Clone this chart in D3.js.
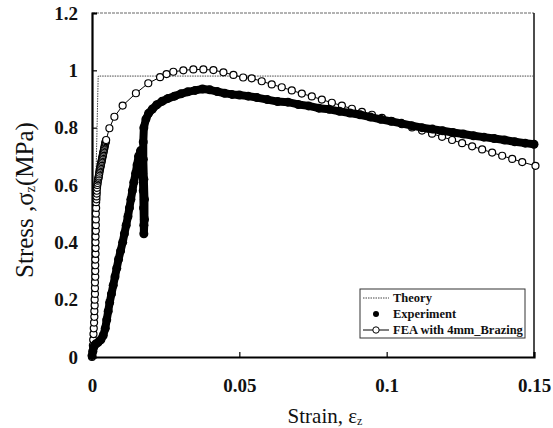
<!DOCTYPE html>
<html>
<head>
<meta charset="utf-8">
<script src="https://cdn.jsdelivr.net/npm/d3@7"></script>
<style>
  body { margin: 0; background: #fff; }
  text { font-family: "Liberation Serif", "Times New Roman", serif; }
</style>
</head>
<body>
<div id="chart"></div>
<script>
// data (strain, stress in MPa)
const theoryStrain = [0, 0.0021, 0.15];
const theoryStress = [0, 0.98, 0.98];

const expStrain = [0, 0.0003, 0.0006, 0.0012, 0.002, 0.003, 0.0038, 0.0045, 0.005, 0.0055,
    0.006, 0.0066, 0.0072, 0.0078, 0.0084, 0.009, 0.0097, 0.0104, 0.011, 0.0116,
    0.0122, 0.0127, 0.0132, 0.0137, 0.0142, 0.0148, 0.0153, 0.0158, 0.0165, 0.017,
    0.0172, 0.0174, 0.0175, 0.0176, 0.0176, 0.0178, 0.0178, 0.0176, 0.0174, 0.0174,
    0.0176, 0.0183, 0.0192, 0.0205, 0.022, 0.0238, 0.0258, 0.028, 0.0302, 0.0325,
    0.035, 0.0375, 0.04, 0.0425, 0.045, 0.0475, 0.05, 0.053, 0.056, 0.0595,
    0.063, 0.0665, 0.07, 0.0735, 0.077, 0.0805, 0.084, 0.0875, 0.091, 0.0945,
    0.098, 0.1015, 0.105, 0.1085, 0.112, 0.1155, 0.119, 0.1225, 0.126, 0.1295,
    0.133, 0.1365, 0.14, 0.1435, 0.147, 0.15];
const expStress = [0.005, 0.02, 0.035, 0.045, 0.05, 0.06, 0.075, 0.10, 0.13, 0.16,
    0.19, 0.22, 0.25, 0.28, 0.31, 0.34, 0.37, 0.40, 0.43, 0.46,
    0.49, 0.52, 0.55, 0.58, 0.61, 0.64, 0.67, 0.70, 0.72, 0.70,
    0.64, 0.58, 0.52, 0.46, 0.43, 0.48, 0.55, 0.62, 0.69, 0.75,
    0.80, 0.83, 0.85, 0.865, 0.88, 0.892, 0.902, 0.91, 0.918, 0.925,
    0.93, 0.935, 0.932, 0.926, 0.92, 0.916, 0.914, 0.91, 0.905, 0.898,
    0.891, 0.889, 0.881, 0.876, 0.868, 0.864, 0.857, 0.851, 0.845, 0.837,
    0.829, 0.822, 0.815, 0.807, 0.80, 0.795, 0.789, 0.783, 0.778, 0.772,
    0.767, 0.762, 0.757, 0.751, 0.746, 0.742];

const feaStrain = [0, 0.0002, 0.0003, 0.0004, 0.0005, 0.0006, 0.0007, 0.0008, 0.0008, 0.0009,
    0.0009, 0.001, 0.001, 0.001, 0.0011, 0.0011, 0.0011, 0.0011, 0.0012, 0.0012,
    0.0012, 0.0012, 0.0013, 0.0013, 0.0013, 0.0013, 0.0014, 0.0014, 0.0015, 0.0015,
    0.0016, 0.0016, 0.0017, 0.0018, 0.0019, 0.002, 0.0021, 0.0022, 0.0023, 0.0024,
    0.0025, 0.0026, 0.0027, 0.0028, 0.0029, 0.003, 0.0031, 0.0032, 0.0033, 0.0034,
    0.0035, 0.0036, 0.0037, 0.0038, 0.0039, 0.004, 0.0041, 0.0042, 0.0043, 0.0044,
    0.0045, 0.0046, 0.0047, 0.0048,
    0.0059, 0.0076, 0.0104, 0.0149, 0.0191, 0.0231, 0.0253, 0.0276, 0.031, 0.0344,
    0.0378, 0.0412, 0.0446, 0.048, 0.0513, 0.0542, 0.0576, 0.061, 0.0644, 0.0678,
    0.0712, 0.0746, 0.078, 0.0814, 0.0848, 0.0882, 0.0916, 0.095, 0.0984, 0.1018,
    0.1052, 0.1086, 0.112, 0.1154, 0.1188, 0.1222, 0.1256, 0.129, 0.1324, 0.1358,
    0.1392, 0.1426, 0.146, 0.1505];
const feaStress = [0, 0.02, 0.04, 0.06, 0.08, 0.10, 0.12, 0.14, 0.16, 0.18,
    0.20, 0.22, 0.24, 0.26, 0.28, 0.30, 0.32, 0.34, 0.36, 0.38,
    0.40, 0.42, 0.44, 0.46, 0.48, 0.50, 0.52, 0.54, 0.55, 0.56,
    0.57, 0.58, 0.59, 0.60, 0.607, 0.615, 0.62, 0.625, 0.63, 0.637,
    0.643, 0.65, 0.655, 0.66, 0.665, 0.67, 0.675, 0.68, 0.685, 0.69,
    0.695, 0.70, 0.705, 0.71, 0.715, 0.72, 0.725, 0.73, 0.735, 0.74,
    0.745, 0.749, 0.753, 0.757,
    0.798, 0.838, 0.877, 0.92, 0.955, 0.976, 0.987, 0.995, 1.0, 1.003,
    1.003, 1.001, 0.993, 0.984, 0.975, 0.972, 0.962, 0.951, 0.941, 0.93,
    0.919, 0.909, 0.898, 0.887, 0.877, 0.866, 0.855, 0.845, 0.834, 0.823,
    0.812, 0.801, 0.79, 0.779, 0.768, 0.757, 0.746, 0.735, 0.724, 0.713,
    0.702, 0.691, 0.68, 0.667];

const xTicks = [0, 0.05, 0.1, 0.15];
const yTicks = [0, 0.2, 0.4, 0.6, 0.8, 1, 1.2];
const legendLabels = ["Theory", "Experiment", "FEA with 4mm_Brazing"];

// set the dimensions and margins of the graph
const margin = {top: 13, right: 19, bottom: 71, left: 92},
    width = 553 - margin.left - margin.right,
    height = 428 - margin.top - margin.bottom;

const svg = d3.select("#chart")
    .append("svg")
    .attr("width", 553)
    .attr("height", 428)
    .append("g")
    .attr("transform", `translate(${margin.left},${margin.top})`);

const x = d3.scaleLinear().domain([0, 0.15]).range([0, width]);
const y = d3.scaleLinear().domain([0, 1.2]).range([height, 0]);

// frame: top and right thin, left and bottom heavy
svg.append("line")
    .attr("x1", 0).attr("x2", width).attr("y1", 0).attr("y2", 0)
    .attr("stroke", "#666").attr("stroke-width", 1).attr("stroke-dasharray", "3,1");
svg.append("line")
    .attr("x1", width).attr("x2", width).attr("y1", 0).attr("y2", height)
    .attr("stroke", "#111").attr("stroke-width", 1.5);

// axes with inward ticks
const xAxis = svg.append("g")
    .attr("transform", `translate(0,${height})`)
    .call(d3.axisBottom(x).tickValues(xTicks).tickSize(-5).tickPadding(22)
        .tickFormat(d => d3.format("")(d)));
const yAxis = svg.append("g")
    .call(d3.axisLeft(y).tickValues(yTicks).tickSize(-5).tickPadding(14)
        .tickFormat(d => d3.format("")(d)));

[xAxis, yAxis].forEach(ax => {
    ax.select(".domain").attr("stroke", "#000").attr("stroke-width", 2.2);
    ax.selectAll(".tick line").attr("stroke", "#000").attr("stroke-width", 1.2);
    ax.selectAll(".tick text")
        .attr("fill", "#111")
        .style("font-size", "19px")
        .style("font-weight", "bold")
        .style("font-family", "Liberation Serif, serif");
});
xAxis.selectAll(".tick").filter(d => d === 0).select("line").remove();
yAxis.selectAll(".tick").filter(d => d === 0).select("line").remove();

// theory line (dotted)
const theory = theoryStrain.map((s, i) => [s, theoryStress[i]]);
svg.append("path")
    .datum(theory)
    .attr("fill", "none")
    .attr("stroke", "#444")
    .attr("stroke-width", 1)
    .attr("stroke-dasharray", "1.5,1")
    .attr("d", d3.line().x(d => x(d[0])).y(d => y(d[1])));

// FEA line with open circles
const fea = feaStrain.map((s, i) => [s, feaStress[i]]);
svg.append("path")
    .datum(fea)
    .attr("fill", "none")
    .attr("stroke", "#000")
    .attr("stroke-width", 1)
    .attr("d", d3.line().x(d => x(d[0])).y(d => y(d[1])));
svg.append("g")
    .selectAll("circle")
    .data(fea)
    .enter()
    .append("circle")
    .attr("cx", d => x(d[0]))
    .attr("cy", d => y(d[1]))
    .attr("r", 3.5)
    .attr("fill", "#fff")
    .attr("stroke", "#000")
    .attr("stroke-width", 1.2);

// experiment: dense filled dots forming a thick band
const exp = expStrain.map((s, i) => [s, expStress[i]]);
svg.append("path")
    .datum(exp)
    .attr("fill", "none")
    .attr("stroke", "#000")
    .attr("stroke-width", 8)
    .attr("stroke-linejoin", "round")
    .attr("stroke-linecap", "round")
    .attr("d", d3.line().x(d => x(d[0])).y(d => y(d[1])));
svg.append("g")
    .selectAll("circle")
    .data(exp)
    .enter()
    .append("circle")
    .attr("cx", d => x(d[0]))
    .attr("cy", d => y(d[1]))
    .attr("r", 4.5)
    .attr("fill", "#000");

// axis titles
svg.append("text")
    .attr("x", 233)
    .attr("y", 410)
    .attr("text-anchor", "middle")
    .style("font-size", "21px")
    .attr("fill", "#111")
    .html('Strain, ε<tspan font-size="12" dy="2">z</tspan>');

svg.append("text")
    .attr("transform", `translate(${33 - margin.left},${200 - margin.top}) rotate(-90)`)
    .attr("text-anchor", "middle")
    .style("font-size", "25px")
    .attr("fill", "#111")
    .html('Stress ,σ<tspan font-size="14" dy="2">z</tspan><tspan dy="-2">(MPa)</tspan>');

// legend
const legend = svg.append("g")
    .attr("transform", `translate(${360 - margin.left},${289 - margin.top})`);
legend.append("rect")
    .attr("width", 165).attr("height", 49)
    .attr("fill", "#fff")
    .attr("stroke", "#333").attr("stroke-width", 1);

legendLabels.forEach((label, i) => {
    const row = legend.append("g").attr("transform", `translate(0,${9 + i * 16})`);
    if (i === 0) {
        row.append("line").attr("x1", 3).attr("x2", 29).attr("y1", 0).attr("y2", 0)
            .attr("stroke", "#444").attr("stroke-dasharray", "1.5,1");
    } else if (i === 1) {
        row.append("circle").attr("cx", 16).attr("cy", 0).attr("r", 3).attr("fill", "#000");
    } else {
        row.append("line").attr("x1", 3).attr("x2", 29).attr("y1", 0).attr("y2", 0)
            .attr("stroke", "#000");
        row.append("circle").attr("cx", 16).attr("cy", 0).attr("r", 3.2)
            .attr("fill", "#fff").attr("stroke", "#000");
    }
    row.append("text")
        .attr("x", 33)
        .attr("y", 4)
        .style("font-size", "12.5px")
        .style("font-weight", "bold")
        .attr("fill", "#111")
        .text(label);
});
</script>
</body>
</html>
